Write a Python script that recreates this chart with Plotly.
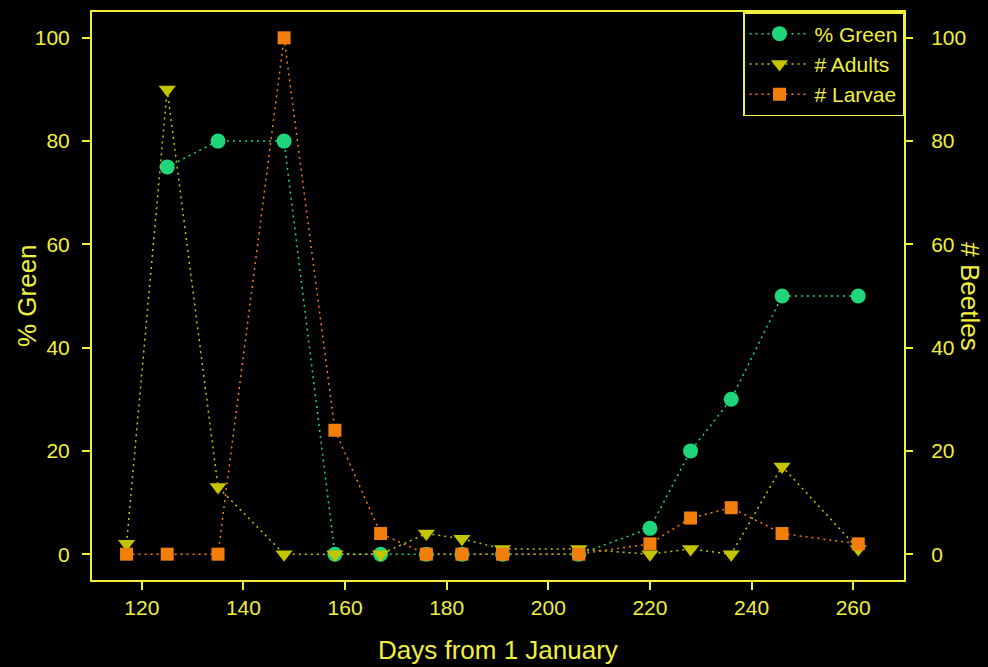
import plotly.graph_objects as go

days = [117, 125, 135, 148, 158, 167, 176, 183, 191, 206, 220, 228, 236, 246, 261]
pct_green = [None, 75, 80, 80, 0, 0, 0, 0, 0, 0, 5, 20, 30, 50, 50]
adults = [2, 90, 13, 0, 0, 0, 4, 3, 1, 1, 0, 1, 0, 17, 1]
larvae = [0, 0, 0, 100, 24, 4, 0, 0, 0, 0, 2, 7, 9, 4, 2]

y_ticks = [0, 20, 40, 60, 80, 100]
x_ticks = [120, 140, 160, 180, 200, 220, 240, 260]

YEL = "#F0F03C"
GREEN = "#1FD67A"
OLIVE = "#C4C400"
ORANGE = "#F27F0C"
FONT = "Liberation Sans, Arial, sans-serif"
DOT = "2px,4px"

fig = go.Figure()
fig.add_trace(go.Scatter(
    x=days, y=pct_green, name="% Green", mode="lines+markers",
    line=dict(color=GREEN, width=1.5, dash=DOT),
    marker=dict(symbol="circle", size=15, color=GREEN),
    connectgaps=False, yaxis="y"))
fig.add_trace(go.Scatter(
    x=days, y=adults, name="# Adults", mode="lines+markers",
    line=dict(color=OLIVE, width=1.5, dash=DOT),
    marker=dict(symbol="triangle-down", size=15, color=OLIVE),
    yaxis="y2"))
fig.add_trace(go.Scatter(
    x=days, y=larvae, name="# Larvae", mode="lines+markers",
    line=dict(color=ORANGE, width=1.5, dash=DOT),
    marker=dict(symbol="square", size=13, color=ORANGE),
    yaxis="y2"))

axis_common = dict(
    showgrid=False, zeroline=False, ticks="outside", ticklen=8,
    tickcolor=YEL, tickwidth=1.5,
    tickfont=dict(family=FONT, size=21, color=YEL),
)

fig.update_layout(
    width=988, height=667,
    paper_bgcolor="black", plot_bgcolor="black",
    margin=dict(l=92, r=84, t=10, b=87),
    font=dict(family=FONT, color=YEL),
    xaxis=dict(range=[110.2, 270], tickvals=x_ticks,
               showline=True, linecolor=YEL, linewidth=2, mirror=True,
               **axis_common),
    yaxis=dict(range=[-5, 105], tickvals=y_ticks,
               showline=True, linecolor=YEL, linewidth=2, mirror=True,
               ticklabelstandoff=8, **axis_common),
    yaxis2=dict(range=[-5, 105], tickvals=y_ticks, overlaying="y",
                side="right", showline=False, ticklabelstandoff=14,
                **axis_common),
    legend=dict(x=1, y=1, xanchor="right", yanchor="top",
                bgcolor="black", bordercolor=YEL, borderwidth=1.5,
                font=dict(family=FONT, size=21, color=YEL),
                itemwidth=60, tracegroupgap=0),
    annotations=[
        dict(text="Days from 1 January", xref="paper", yref="paper",
             x=0.5, y=-0.123, xanchor="center", yanchor="middle",
             showarrow=False, font=dict(family=FONT, size=26, color=YEL)),
        dict(text="% Green", xref="paper", yref="paper",
             x=-0.080, y=0.5, xanchor="center", yanchor="middle",
             textangle=-90, showarrow=False,
             font=dict(family=FONT, size=26, color=YEL)),
        dict(text="# Beetles", xref="paper", yref="paper",
             x=1.081, y=0.5, xanchor="center", yanchor="middle",
             textangle=90, showarrow=False,
             font=dict(family=FONT, size=26, color=YEL)),
    ],
)

fig.write_html(
    "out.html",
    config={"displayModeBar": False},
    post_script="document.body.style.margin='0';document.body.style.overflow='hidden';document.body.style.background='black';",
)
